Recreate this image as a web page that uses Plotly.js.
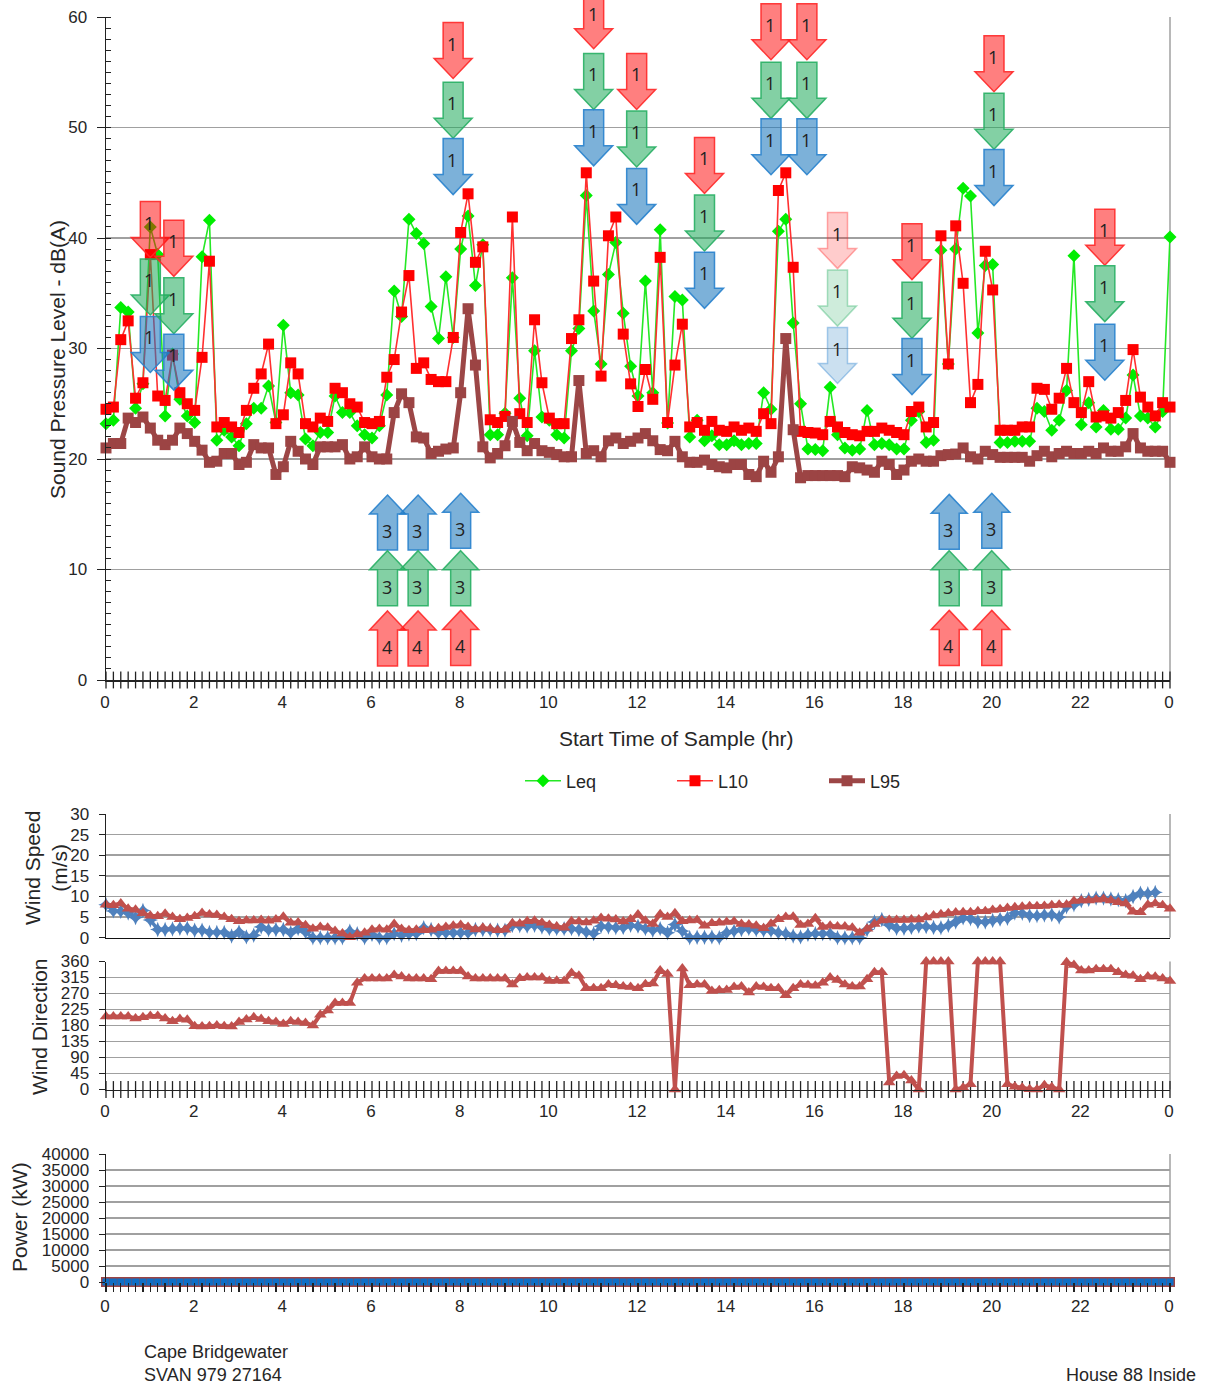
<!DOCTYPE html>
<html><head><meta charset="utf-8">
<script src="https://cdn.plot.ly/plotly-3.0.1.min.js"></script>
<style>html,body{margin:0;padding:0;background:#fff}#c{width:1205px;height:1389px}</style>
</head><body><div id="c"></div>
<script>
const leq=[23.2,23.5,33.7,33.3,24.6,26.8,41,38.5,23.9,29.5,25.4,23.9,23.3,38.3,41.6,21.7,22.6,22,21.2,23.2,24.6,24.6,26.6,23.3,32.1,26,25.8,21.8,21.2,22.4,22.4,25.7,24.2,24.2,23,22.2,21.9,23,25.8,35.2,32.9,41.7,40.4,39.5,33.8,30.9,36.5,31,39,42,35.7,39.4,
22.2,22.2,24.15,36.4,25.5,22.1,29.8,23.8,23.5,22.2,21.9,29.8,31.8,43.85,33.4,28.6,36.7,39.6,33.2,28.4,25.7,36.1,26,40.75,23.25,34.7,34.4,22,23.5,21.65,22.1,21.3,21.3,21.65,21.3,21.4,21.4,26,24.5,40.6,41.7,32.3,25,20.9,20.85,20.75,
26.5,22.2,21,20.8,20.9,24.4,21.3,21.4,21.3,20.9,20.9,23.5,24.3,21.5,21.7,38.9,28.6,39,44.5,43.8,31.4,37.5,37.6,21.5,21.5,21.6,21.6,21.6,24.6,24.3,22.6,23.5,26.2,38.4,23.1,25.1,22.9,24.4,22.7,22.7,23.7,27.6,23.9,23.7,22.9,24.3,40.1];
const l10=[24.5,24.7,30.8,32.5,25.5,26.9,38.5,25.7,25.3,29.4,26,25,24.4,29.2,37.9,22.9,23.3,22.9,22.4,24.4,26.4,27.7,30.4,23.2,24,28.7,27.7,23.2,22.9,23.7,23.4,26.4,26,25,24.7,23.3,23.2,23.4,27.4,29,33.3,36.6,28.2,28.7,27.2,27,27,31,40.5,44,37.8,39.2,
23.55,23.3,23.85,41.9,24.1,23.3,32.6,26.9,23.7,23.2,23.2,30.9,32.6,45.9,36.1,27.5,40.2,41.9,31.3,26.8,24.75,28.1,25.4,38.25,23.3,28.5,32.2,22.9,23.3,22.6,23.4,22.6,22.5,22.9,22.6,22.8,22.5,24.1,23.2,44.3,45.9,37.35,22.5,22.4,22.35,22.2,
23.4,22.9,22.4,22.2,22.1,22.5,22.5,22.8,22.6,22.4,22.2,24.3,24.7,22.9,23.3,40.2,28.6,41.1,35.9,25.1,26.75,38.8,35.3,22.6,22.6,22.6,22.9,22.9,26.4,26.3,24.5,25.5,28.2,25.1,24.2,27,23.8,23.9,23.7,24.2,25.3,29.9,25.6,24.7,23.9,25.1,24.7];
const l95=[21,21.4,21.4,23.7,23.3,23.8,22.8,21.7,21.3,21.7,22.8,22.3,21.6,20.8,19.7,19.8,20.5,20.5,19.5,19.7,21.3,21,21,18.6,19.3,21.6,20.7,20,19.5,21.1,21.1,21.1,21.3,20,20.2,21.1,20.2,20,20,24.2,25.9,25.1,22,21.9,20.5,20.7,20.9,21,26,33.6,28.5,21.1,
20.1,20.5,21.2,23.4,21.5,20.75,21.4,20.75,20.6,20.4,20.2,20.2,27.1,20.5,20.75,20.2,21.65,21.9,21.4,21.6,21.9,22.3,21.65,20.85,20.75,21.6,20.2,19.7,19.7,19.9,19.5,19.3,19.2,19.5,19.5,18.6,18.4,19.8,18.8,20.2,30.9,22.65,18.3,18.5,18.5,18.5,
18.5,18.5,18.4,19.3,19.2,19,18.8,19.8,19.5,18.6,19,19.8,20,19.8,19.8,20.3,20.4,20.45,21,20.2,20,20.7,20.4,20.15,20.15,20.15,20.15,19.8,20.3,20.7,20.2,20.5,20.7,20.5,20.5,20.7,20.5,21,20.7,20.7,21.1,22.3,21,20.7,20.7,20.7,19.7];
const speedA=[8.0,6.5,6.4,6.0,4.9,6.6,4.3,2.0,2.0,2.1,2.3,2.3,1.8,1.8,1.3,1.3,1.3,0.4,1.4,0.2,0.6,2.6,1.9,2.0,2.0,1.2,2.2,1.4,0,0,0,0,0,1.6,1.0,0,0.8,0,0,1.0,0.6,0.9,1.0,2.4,2.0,1.2,1.2,1.2,1.2,1.2,2.0,2.0,1.9,1.8,1.8,3.0,2.9,2.8,3.0,2.6,2.2,2.2,2.2,2.2,2.0,1.4,1.0,2.8,2.6,2.4,2.5,3.0,2.8,2.2,1.8,2.2,1.2,3.2,1.6,0,0.1,0.1,0.2,0,1.2,1.6,2.0,2.2,1.9,1.8,1.7,1.2,1.0,0.4,0.2,0.8,1.0,1.0,1.0,0,0,0,0,2.0,3.8,4.4,3.1,2.3,2.3,2.5,2.8,2.7,2.5,2.4,3.0,3.8,4.8,4.6,3.9,3.8,4.2,4.5,4.7,6.0,5.9,5.4,5.3,5.5,5.6,5.0,7.5,8.0,9.0,9.3,9.6,9.6,9.4,9.2,9.0,10.0,10.8,10.7,11.0,null,null];
const speedB=[8.0,7.9,8.3,7.0,6.8,5.9,5.3,5.2,5.8,5.0,4.5,4.8,5.2,6.0,5.6,5.5,5.0,4.5,4.0,4.2,4.2,4.3,4.1,4.4,5.1,3.6,3.7,3.0,2.2,2.6,2.4,1.6,1.0,0.1,0.8,1.2,1.9,2.1,1.9,3.3,2.1,1.8,1.9,1.8,1.9,2.3,2.6,2.9,3.1,2.6,2.0,2.4,2.2,1.8,1.9,3.5,3.4,4.0,4.1,3.6,3.1,2.7,2.4,4.0,3.9,3.7,4.1,4.8,4.6,4.4,3.9,4.5,5.6,4.1,3.3,5.7,5.0,5.9,4.0,4.2,4.3,2.9,3.5,3.6,3.8,3.9,3.3,3.2,2.9,2.3,3.4,4.5,5.0,5.1,3.1,3.3,4.7,2.6,2.9,2.7,2.7,2.4,1.2,2.2,3.3,4.2,4.3,4.3,4.3,4.4,4.4,4.9,5.4,5.7,5.9,6.1,6.2,6.2,6.4,6.4,6.7,6.9,7.2,7.4,7.5,7.6,7.6,7.7,7.9,8.0,8.0,8.9,9.0,9.0,9.2,9.4,9.0,8.6,8.3,6.3,6.2,8.0,8.3,7.9,7.0];
const direction=[205,205,205,205,200,203,207,207,200,192,198,196,178,177,178,180,178,177,190,197,203,198,192,190,184,192,190,187,180,210,222,243,243,243,300,312,312,312,312,322,318,312,312,312,310,333,333,333,333,318,312,312,312,312,312,295,313,315,315,315,305,306,305,328,320,285,285,285,295,293,290,288,285,296,298,335,325,0,340,293,295,295,277,279,280,288,290,273,290,288,285,285,265,285,295,294,292,300,315,308,295,290,290,310,330,330,20,38,40,25,0,360,360,360,360,0,5,15,360,360,360,360,15,8,5,1,0,12,6,0,358,350,335,335,338,338,338,330,322,320,310,318,317,312,305];
const power=[0,0,0,0,0,0,0,0,0,0,0,0,0,0,0,0,0,0,0,0,0,0,0,0,0,0,0,0,0,0,0,0,0,0,0,0,0,0,0,0,0,0,0,0,0,0,0,0,0,0,0,0,0,0,0,0,0,0,0,0,0,0,0,0,0,0,0,0,0,0,0,0,0,0,0,0,0,0,0,0,0,0,0,0,0,0,0,0,0,0,0,0,0,0,0,0,0,0,0,0,0,0,0,0,0,0,0,0,0,0,0,0,0,0,0,0,0,0,0,0,0,0,0,0,0,0,0,0,0,0,0,0,0,0,0,0,0,0,0,0,0,0,0,0,0];
const tickHours=[0,2,4,6,8,10,12,14,16,18,20,22,24];
const tickLabels=['0','2','4','6','8','10','12','14','16','18','20','22','0'];
const hours=leq.map((_,i)=>i/6);

// Event-marker stacks: hour, dB of the top of the red/green/blue arrow, counts
const downHours=[1.0,1.53,7.83,11.0,11.97,13.5,15.0,15.81,16.5,18.18,20.03,22.53];
const downRed=[43.3,41.6,59.5,62.2,56.7,49.1,61.2,61.2,42.3,41.3,58.3,42.6];
const downGreen=[38.1,36.4,54.1,56.7,51.5,43.9,55.9,55.9,37.1,36,53.1,37.5];
const downBlue=[32.9,31.3,49,51.6,46.3,38.7,50.8,50.8,31.9,30.9,48,32.2];
const downFade=[1,1,1,1,1,1,1,1,0.4,1,1,1];
const upHours=[6.35,7.04,8.0,19.02,19.98];
const upBlue=[16.74,16.74,16.9,16.8,16.9];
const upGreen=[11.7,11.7,11.7,11.7,11.7];
const upRed=[6.25,6.25,6.3,6.3,6.3];
const upBlueCount=['3','3','3','3','3'];
const upGreenCount=['3','3','3','3','3'];
const upRedCount=['4','4','4','4','4'];

const W=1205,H=1389;
const X0=106,X1=1170;
const dom=(bot,top)=>[1-bot/H,1-top/H];
const mainD=dom(680,17), spdD=dom(937.7,814), dirD=dom(1089.5,961.5), powD=dom(1282,1154);
const FONT='"Liberation Sans", Arial, sans-serif';
const TXT='#262626', GRID='#a0a0a0';
const tf={family:FONT,size:17,color:TXT};

const dbToPaper=v=>mainD[0]+(v/60)*(mainD[1]-mainD[0]);
const hrToPaper=h=>(X0+(X1-X0)*h/24)/W;

const shapes=[], annotations=[];
const COL={
 red:{f:'255,0,0',l:'255,40,40',fa:.5},
 green:{f:'30,170,90',l:'40,175,100',fa:.55},
 blue:{f:'30,120,190',l:'40,130,205',fa:.58}
};
function arrow(h,db,col,dir,label,fade){
  const c=COL[col];
  // down arrows are anchored at the top edge, up arrows at the tip
  const path=dir==='down'
   ? 'M-10,0 L10,0 L10,-36 L19,-36 L0,-56 L-19,-36 L-10,-36 Z'
   : 'M0,0 L18,-19 L10,-19 L10,-55 L-10,-55 L-10,-19 L-18,-19 Z';
  shapes.push({type:'path',xref:'paper',yref:'paper',xsizemode:'pixel',ysizemode:'pixel',
    xanchor:hrToPaper(h),yanchor:dbToPaper(db),path:path,
    fillcolor:`rgba(${c.f},${c.fa*fade})`,line:{color:`rgba(${c.l},${.85*fade+.05})`,width:1.5},layer:'above'});
  annotations.push({xref:'paper',yref:'paper',x:hrToPaper(h),xshift:-1,y:dbToPaper(db),yshift:dir==='down'?-21:-36,
    text:label,showarrow:false,xanchor:'center',yanchor:'middle',font:{family:'"Open Sans",sans-serif',size:18,color:'#222'}});
}
downHours.forEach((h,i)=>{
  arrow(h,downRed[i],'red','down','1',downFade[i]);
  arrow(h,downGreen[i],'green','down','1',downFade[i]);
  arrow(h,downBlue[i],'blue','down','1',downFade[i]);
});
upHours.forEach((h,i)=>{
  arrow(h,upBlue[i],'blue','up',upBlueCount[i],1);
  arrow(h,upGreen[i],'green','up',upGreenCount[i],1);
  arrow(h,upRed[i],'red','up',upRedCount[i],1);
});
// plot frames (right edge)
[[mainD],[spdD],[dirD],[powD]].forEach(([d])=>{
  shapes.push({type:'line',xref:'paper',yref:'paper',x0:X1/W,x1:X1/W,y0:d[0],y1:d[1],line:{color:GRID,width:1.5},layer:'below'});
});
function note(x,y,text,anchor,size){
  annotations.push({xref:'paper',yref:'paper',x:x/W,y:1-y/H,text,showarrow:false,xanchor:anchor,yanchor:'middle',align:'left',font:{family:FONT,size:size||18,color:TXT}});
}
function vnote(x,y,text,size){
  annotations.push({xref:'paper',yref:'paper',x:x/W,y:1-y/H,text,showarrow:false,textangle:-90,xanchor:'center',yanchor:'middle',font:{family:FONT,size:size||21,color:TXT}});
}
vnote(58,360,'Sound Pressure Level - dB(A)',21);
vnote(46,868,'Wind Speed<br>(m/s)',21);
vnote(39,1027,'Wind Direction',21);
vnote(19,1217,'Power (kW)',21);
note(676,738.5,'Start Time of Sample (hr)','center',21);
note(142,1352,'Cape Bridgewater','left',18);
note(142,1375,'SVAN 979 27164','left',18);
note(1198,1375,'House 88 Inside','right',18);

const xBase=(d,anchor)=>({domain:[X0/W,X1/W],range:[0,24],anchor,tickmode:'array',tickvals:tickHours,ticktext:tickLabels,
  showgrid:false,zeroline:false,showline:true,linecolor:'#222',linewidth:1.5,ticks:'',tickfont:tf,fixedrange:true,ticklabelstandoff:6,ticklabelshift:-1});
const yBase=(d,range,dtick)=>({domain:d,range,dtick,tick0:0,tickformat:'d',showgrid:true,gridcolor:GRID,gridwidth:1.7,zeroline:false,showline:true,linecolor:'#222',linewidth:1.5,
  ticks:'outside',ticklen:8,tickcolor:'#222',tickfont:tf,ticklabelstandoff:6,fixedrange:true});

function crossTicks(xa,ya,y0,size){
  return {x:hours,y:hours.map(()=>y0),xaxis:xa,yaxis:ya,type:'scatter',mode:'markers',cliponaxis:false,showlegend:false,hoverinfo:'skip',
    marker:{symbol:'line-ns',size:size,line:{color:'#222',width:1.3}}};
}
const traces=[
 crossTicks('x','y',0,12),
 crossTicks('x3','y3',0,12),
 {name:'Leq',x:hours,y:leq,type:'scatter',mode:'lines+markers',cliponaxis:false,line:{color:'#25e825',width:1.6},marker:{symbol:'diamond',size:10,color:'#00ee00'}},
 {name:'L10',x:hours,y:l10,type:'scatter',mode:'lines+markers',cliponaxis:false,line:{color:'#ff3030',width:1.6},marker:{symbol:'square',size:11,color:'#ff0000'}},
 {name:'L95',x:hours,y:l95,type:'scatter',mode:'lines+markers',cliponaxis:false,line:{color:'#9c4646',width:5},marker:{symbol:'square',size:11,color:'#9c4444'}},
 {name:'Wind A',x:hours,y:speedA,xaxis:'x2',yaxis:'y2',type:'scatter',mode:'lines+markers',cliponaxis:false,showlegend:false,line:{color:'#4f81bd',width:3.5},marker:{symbol:'star-diamond',size:11,color:'#4f81bd'}},
 {name:'Wind B',x:hours,y:speedB,xaxis:'x2',yaxis:'y2',type:'scatter',mode:'lines+markers',cliponaxis:false,showlegend:false,line:{color:'#c0504d',width:4},marker:{symbol:'triangle-up',size:11,color:'#c0504d'}},
 {name:'Direction',x:hours,y:direction,xaxis:'x3',yaxis:'y3',type:'scatter',mode:'lines+markers',cliponaxis:false,showlegend:false,line:{color:'#c0504d',width:4},marker:{symbol:'triangle-up',size:11,color:'#c0504d'}},
 {name:'Power A',x:hours,y:power,xaxis:'x4',yaxis:'y4',type:'scatter',mode:'markers',cliponaxis:false,showlegend:false,marker:{symbol:'square',size:10,color:'#9c4444'}},
 {name:'Power B',x:hours,y:power,xaxis:'x4',yaxis:'y4',type:'scatter',mode:'markers',cliponaxis:false,showlegend:false,marker:{symbol:'square',size:7,color:'#0f6fc6'}}
];
const layout={
 width:W,height:H,margin:{l:0,r:0,t:0,b:0},paper_bgcolor:'#fff',plot_bgcolor:'#fff',
 font:{family:FONT,color:TXT},
 showlegend:true,
 legend:{orientation:'h',x:520/W,xanchor:'left',y:1-781/H,yanchor:'middle',font:{family:FONT,size:18,color:TXT},itemwidth:36,entrywidth:101,entrywidthmode:'pixels',bgcolor:'rgba(0,0,0,0)',tracegroupgap:0},
 xaxis:xBase(mainD,'y'),
 yaxis:Object.assign(yBase(mainD,[0,60],10),{minor:{ticks:'inside',dtick:1,ticklen:5,tickcolor:'#222',showgrid:false}}),
 xaxis2:Object.assign(xBase(spdD,'y2'),{showticklabels:false,linecolor:'#111'}),
 yaxis2:Object.assign(yBase(spdD,[0,30],5),{ticklen:6,anchor:'x2'}),
 xaxis3:xBase(dirD,'y3'),
 yaxis3:Object.assign(yBase(dirD,[0,360],45),{ticklen:6,anchor:'x3'}),
 xaxis4:Object.assign(xBase(powD,'y4'),{showline:false,ticks:'outside',ticklen:9,tickwidth:1.3,tickcolor:'#222',ticklabelstandoff:0,minor:{ticks:'outside',tickmode:'array',tickvals:hours,ticklen:9,tickcolor:'#222',tickwidth:1.3,showgrid:false}}),
 yaxis4:Object.assign(yBase(powD,[0,40000],5000),{ticklen:6,anchor:'x4'}),
 shapes,annotations
};
Plotly.newPlot('c',traces,layout,{displayModeBar:false,staticPlot:true});
</script></body></html>
